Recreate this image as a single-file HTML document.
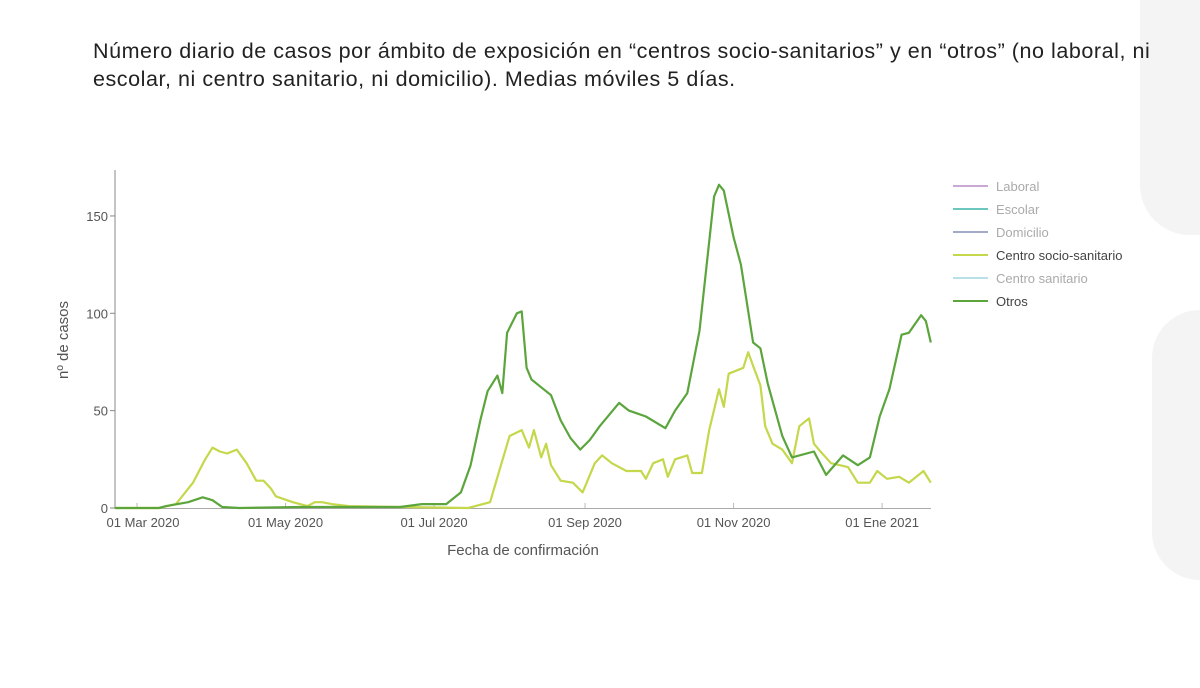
<!DOCTYPE html>
<html><head><meta charset="utf-8"><style>
body{margin:0;width:1200px;height:688px;background:#fff;overflow:hidden;font-family:"Liberation Sans",sans-serif;position:relative}
.title{position:absolute;left:93px;top:37px;font-size:21.5px;line-height:28px;color:#222;white-space:nowrap;letter-spacing:0.55px;z-index:5}
</style></head><body>
<div style="position:absolute;left:1140px;top:0;width:60px;height:235px;background:#f4f4f4;border-radius:0 0 0 50px"></div>
<div style="position:absolute;left:1152px;top:310px;width:48px;height:270px;background:#f4f4f4;border-radius:48px 0 0 48px"></div>
<div class="title">Número diario de casos por ámbito de exposición en “centros socio-sanitarios” y en “otros” (no laboral, ni<br>escolar, ni centro sanitario, ni domicilio). Medias móviles 5 días.</div>
<svg id="chart" width="1200" height="688" style="position:absolute;left:0;top:0"></svg>
<script>
const otrosDays=[-9,9,12,21,27,31,35,42,67,87,108,117,127,133,137,141,144,148,150,152,156,158,160,162,166,170,174,178,182,186,190,198,202,209,217,221,226,231,237,239,241,245,248,253,256,259,265,269,278,283,290,296,301,305,309,314,317,322,324,326];
const otrosVals=[0,0,1,3,5.5,4,0.5,0,0.5,0.5,0.5,2,2,8,22,45,60,68,59,90,100,101,72,66,62,58,45,36,30,35,42,54,50,47,41,50,59,91,160,166,163,139,125,85,82,64,37,26,29,17,27,22,26,47,61,89,90,99,96,85];
const socioDays=[-9,9,16,23,28,31,34,37,41,45,49,52,55,57,64,70,73,76,80,87,108,136,145,149,153,158,161,163,166,168,170,174,179,183,188,191,195,201,207,209,212,216,218,221,226,228,232,235,239,241,243,249,251,253,256,258,261,265,269,272,276,278,280,285,292,296,301,304,308,313,317,323,326];
const socioVals=[0,0,2,13,25,31,29,28,30,23,14,14,10,6,3,1,3,3,2,1,0.5,0,3,20,37,40,31,40,26,33,22,14,13,8,23,27,23,19,19,15,23,25,16,25,27,18,18,40,61,52,69,72,80,73,63,42,33,30,23,42,46,33,30,23,21,13,13,19,15,16,13,19,13];
const yTicks=[0,50,100,150];
const xTickDays=[0,61,122,184,245,306];
const xTickLabels=["01 Mar 2020","01 May 2020","01 Jul 2020","01 Sep 2020","01 Nov 2020","01 Ene 2021"];
const legendLabels=["Laboral","Escolar","Domicilio","Centro socio-sanitario","Centro sanitario","Otros"];
const legendColors=["#c9a9d4","#6ec7bf","#a3a9c9","#c5d74a","#b9dfe9","#5ba53c"];
const legendText=["#aaa","#aaa","#aaa","#444","#aaa","#444"];

const X0=137,PXD=2.435,Y0=508,PXV=1.947;
const sx=d=>X0+d*PXD, sy=v=>Y0-v*PXV;
const svg=document.getElementById('chart');
const NS="http://www.w3.org/2000/svg";
function mk(t,a){const e=document.createElementNS(NS,t);for(const k in a)e.setAttribute(k,a[k]);svg.appendChild(e);return e;}
let e;
e=mk('line',{x1:115,x2:115,y1:170,y2:509,stroke:'#888','stroke-width':1});


e=mk('line',{x1:115,x2:931,y1:508.5,y2:508.5,stroke:'#aaa','stroke-width':1});


yTicks.forEach(v=>{
  const t=mk('line',{x1:110,x2:115,y1:sy(v),y2:sy(v),stroke:'#888'});
  
  
  const l=mk('text',{x:108,y:sy(v)+5,'text-anchor':'end','font-size':13,fill:'#555'});
  l.textContent=v;
  
  
});
xTickDays.forEach((d,i)=>{
  const t=mk('line',{x1:sx(d),x2:sx(d),y1:503,y2:508,stroke:'#bbb'});
  
  
  const l=mk('text',{x:sx(d)-(i==0?-6:0),y:527,'text-anchor':'middle','font-size':13,fill:'#555'});
  l.textContent=xTickLabels[i];
  
  
});
e=mk('text',{x:523,y:555,'text-anchor':'middle','font-size':15,fill:'#555'});
e.textContent='Fecha de confirmación';


e=mk('text',{x:0,y:0,'text-anchor':'middle','font-size':15,fill:'#555',transform:'translate(68,340) rotate(-90)'});
e.textContent='nº de casos';


function line(days,vals,color,name){
  const p=days.map((d,i)=>sx(d).toFixed(1)+','+sy(vals[i]).toFixed(1)).join(' ');
  const l=mk('polyline',{points:p,fill:'none',stroke:color,'stroke-width':2.2,'stroke-linejoin':'round'});
  
  
}
line(socioDays,socioVals,legendColors[3],'series-centro-socio-sanitario');
line(otrosDays,otrosVals,legendColors[5],'series-otros');
legendLabels.forEach((n,i)=>{
  const y=186+i*23;
  const l=mk('line',{x1:953,x2:988,y1:y,y2:y,stroke:legendColors[i],'stroke-width':2});
  
  
  const t=mk('text',{x:996,y:y+5,'font-size':13,fill:legendText[i]});
  t.textContent=n;
  
  
});
</script>
</body></html>
